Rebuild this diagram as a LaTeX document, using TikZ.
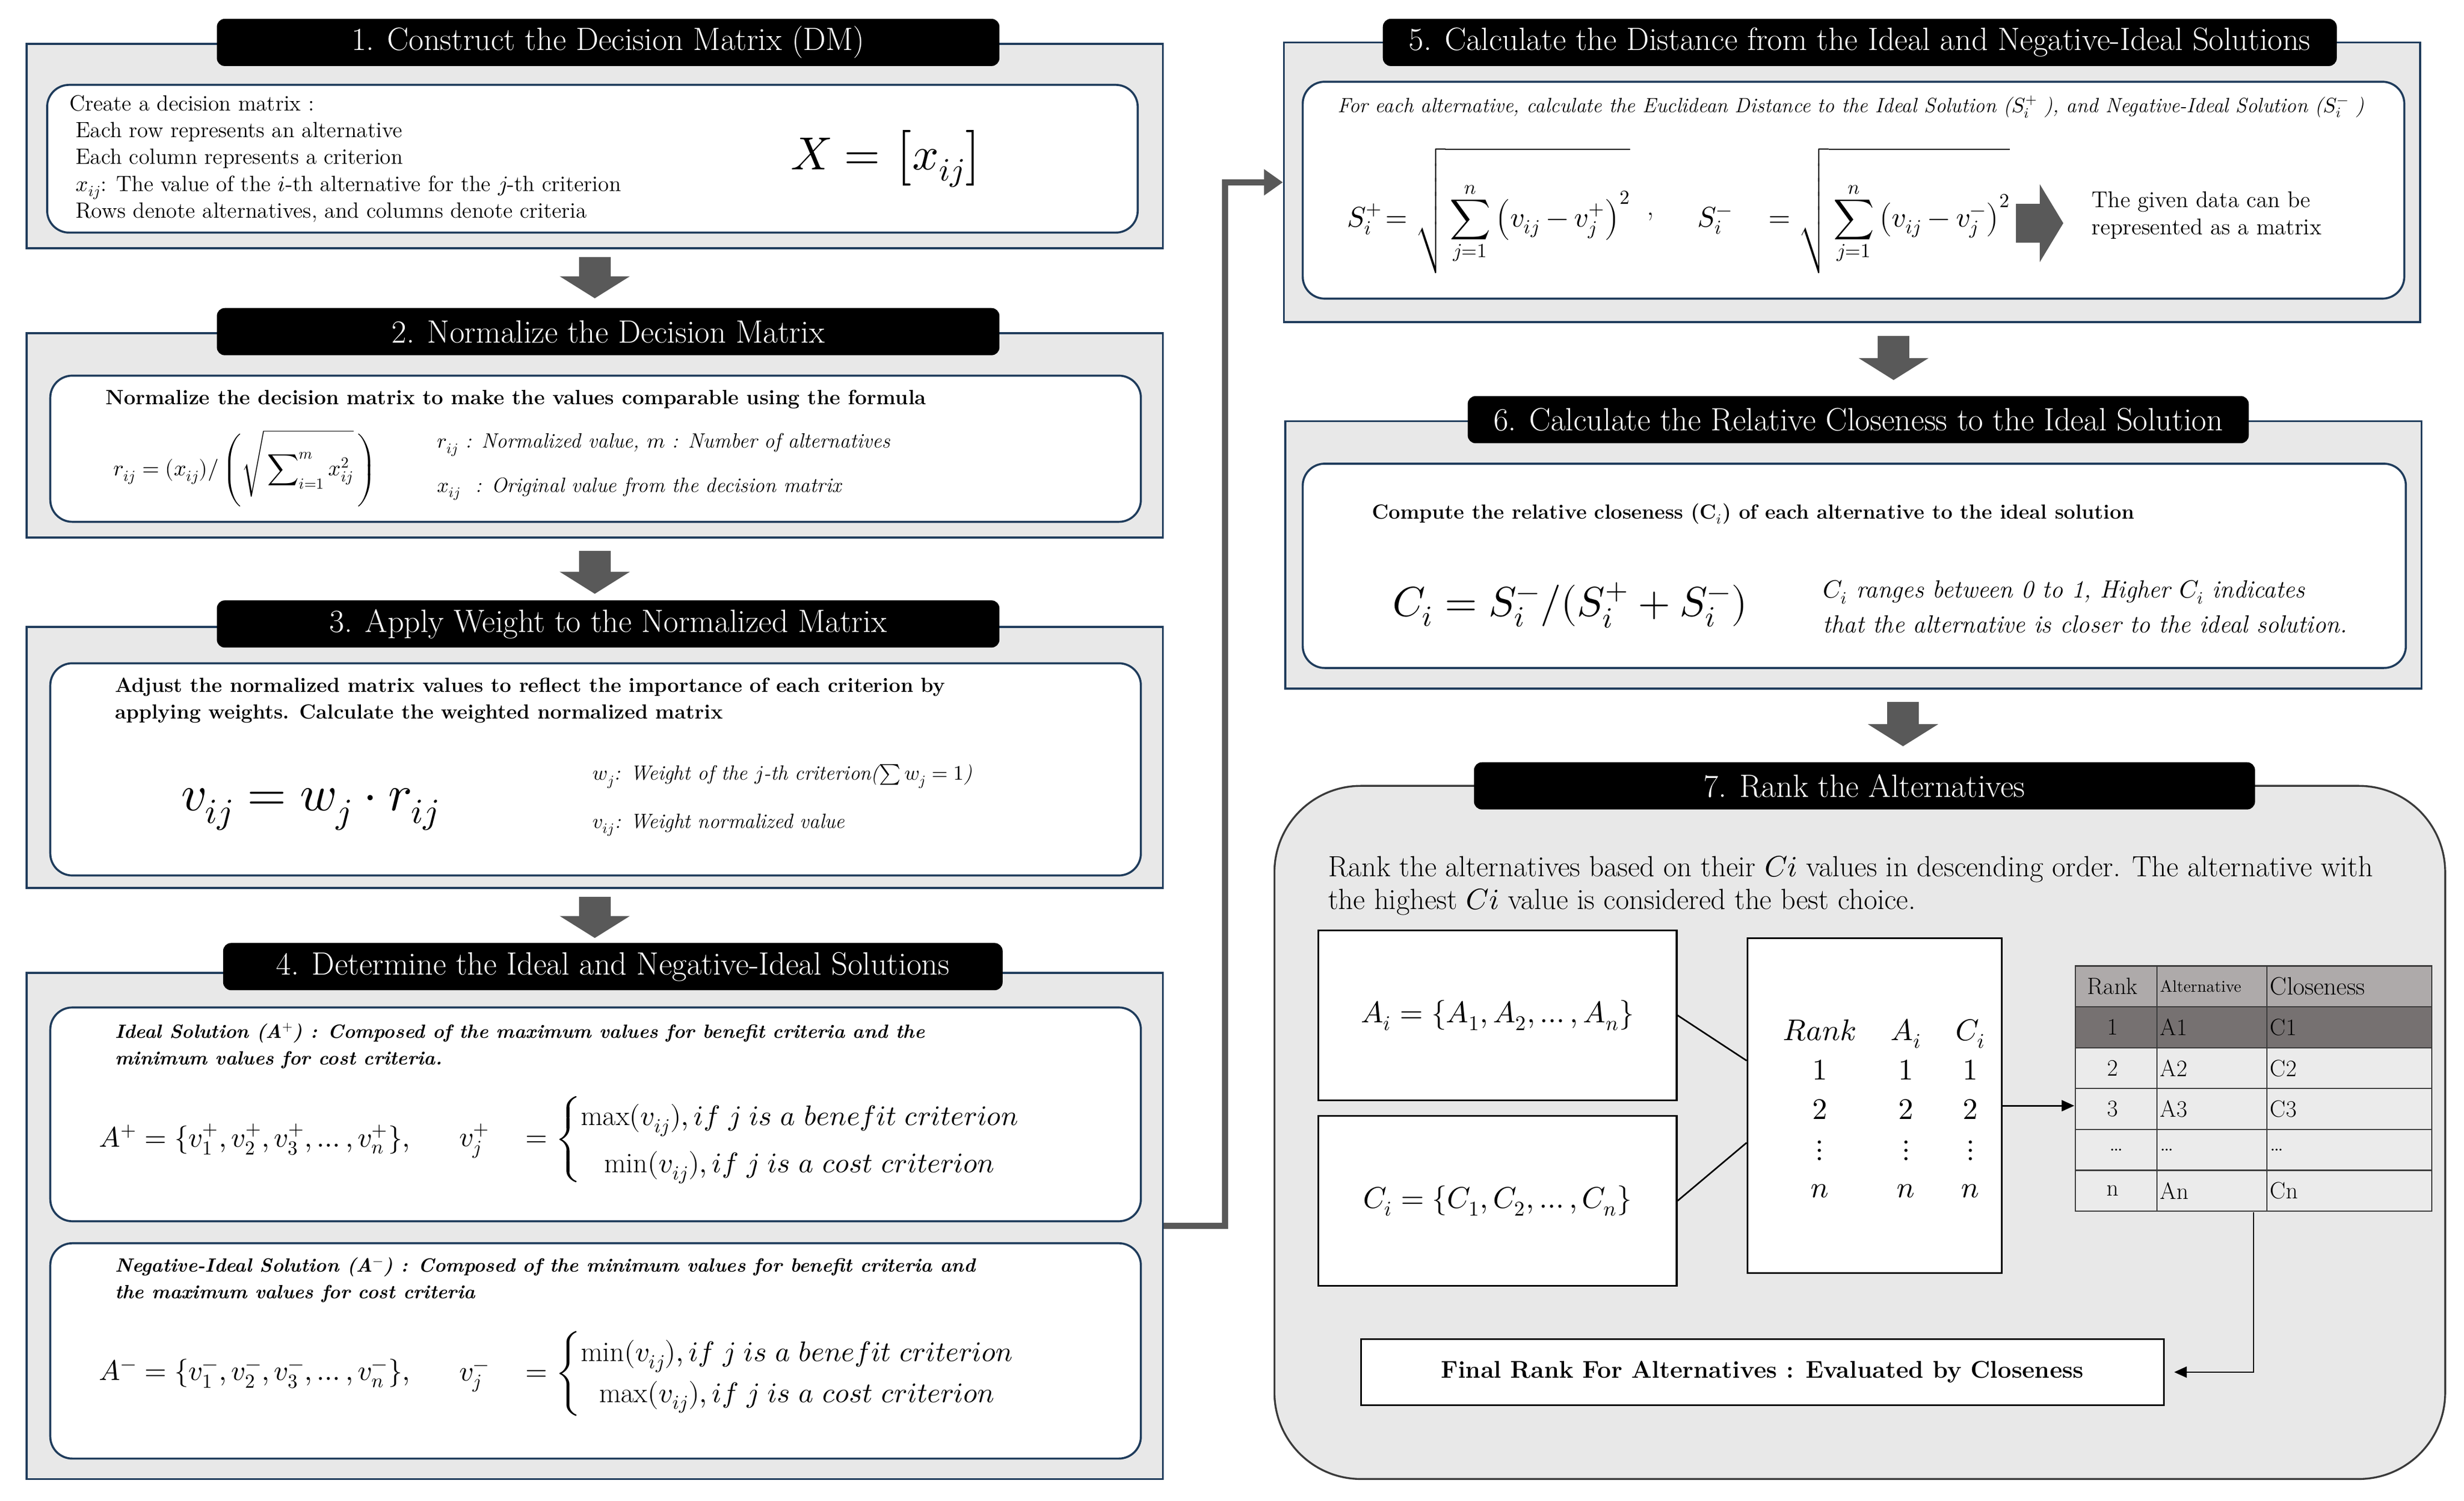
\documentclass[tikz,border=0pt]{standalone}
\usepackage{amsmath}
\usepackage{unicode-math}
\usetikzlibrary{fit,arrows.meta,matrix,calc}
\definecolor{boxgrey}{HTML}{E8E8E8}
\definecolor{boxblue}{HTML}{1F3C5C}
\definecolor{arrgrey}{HTML}{595959}
\definecolor{hdrgrey}{HTML}{AEAAAA}
\definecolor{rowdark}{HTML}{767171}
\definecolor{rowlight}{HTML}{EBEBEB}
\definecolor{sevenline}{HTML}{3A3A3A}
\begin{document}
\begin{tikzpicture}[x=1pt,y=-1pt,
  outerbox/.style={draw=boxblue, line width=1.3pt, fill=boxgrey, inner sep=0pt},
  innerbox/.style={draw=boxblue, line width=1.3pt, fill=white, rounded corners=14pt, inner sep=0pt},
  titlebar/.style={fill=black, rounded corners=5pt, inner sep=0pt},
  titletext/.style={inner sep=0pt, text=white, font=\fontsize{20.5}{22}\selectfont},
  blockarr/.style={draw=arrgrey, line width=20pt, -{Triangle[length=14pt,width=44pt]}},
  bigarr/.style={draw=arrgrey, line width=25pt, -{Triangle[length=15pt,width=49pt]}},
  conn/.style={draw=arrgrey, line width=4pt, -{Triangle[length=12pt,width=16pt]}},
  plainbox/.style={draw=black, line width=1.1pt, fill=white, inner sep=0pt},
  thinline/.style={draw=black, line width=1pt},
  thinarr/.style={draw=black, line width=1pt, -{Triangle[length=8pt,width=7pt]}},
  txt/.style={anchor=west, inner sep=0pt, align=left},
  cell/.style={draw=sevenline, line width=0.8pt, minimum height=26pt, inner ysep=0pt, inner xsep=2pt, font=\fontsize{15}{17}\selectfont, fill=rowlight, anchor=center}
]
\useasboundingbox (0,0) rectangle (1568,954.66);

% ---------- Box 1 ----------
\node[outerbox, fit={(17,28) (740,158)}] (b1) {};
\node[titlebar, fit={(138,12) (636,42)}] (t1) {};
\node[titletext] (t1x) at (t1.center) {1. Construct the Decision Matrix (DM)};
\node[innerbox, fit={(30,54) (724,148)}] (i1) {};
\node[txt, font=\fontsize{14}{17}\selectfont] (b1txt) at (44,101) {Create a decision matrix :\\
\hspace*{4pt}Each row represents an alternative\\
\hspace*{4pt}Each column represents a criterion\\
\hspace*{4pt}$x_{ij}$: The value of the $i$-th alternative for the $j$-th criterion\\
\hspace*{4pt}Rows denote alternatives, and columns denote criteria};
\node[txt, font=\fontsize{29.5}{32}\selectfont] (b1eq) at (503,101) {$X = \left[x_{ij}\right]$};

% ---------- Box 2 ----------
\node[outerbox, fit={(17,212) (740,342)}] (b2) {};
\node[titlebar, fit={(138,196) (636,226)}] (t2) {};
\node[titletext] (t2x) at (t2.center) {2. Normalize the Decision Matrix};
\node[innerbox, fit={(32,239) (726,332)}] (i2) {};
\node[txt, font=\bfseries\fontsize{13.2}{15}\selectfont] (b2txt) at (67,254) {Normalize the decision matrix to make the values comparable using the formula};
\node[txt, font=\fontsize{14}{16}\selectfont] (b2eq) at (72,298) {$r_{ij} = (x_{ij}) / \left(\sqrt{\rule[-13pt]{0pt}{40pt}\displaystyle\sum\nolimits_{i=1}^{m} x_{ij}^2}\,\right)$};
\node[txt, font=\itshape\fontsize{13.2}{15}\selectfont] (b2n1) at (278,283) {$r_{ij}$ : Normalized value, $m$ : Number of alternatives};
\node[txt, font=\itshape\fontsize{13.2}{15}\selectfont] (b2n2) at (278,311) {$x_{ij}$\ \ : Original value from the decision matrix};

% ---------- Box 3 ----------
\node[outerbox, fit={(17,399) (740,565)}] (b3) {};
\node[titlebar, fit={(138,382) (636,412)}] (t3) {};
\node[titletext] (t3x) at (t3.center) {3. Apply Weight to the Normalized Matrix};
\node[innerbox, fit={(32,422) (726,557)}] (i3) {};
\node[txt, font=\bfseries\fontsize{13}{17}\selectfont] (b3txt) at (73,445.5) {Adjust the normalized matrix values to reflect the importance of each criterion by\\applying weights. Calculate the weighted normalized matrix};
\node[txt, font=\fontsize{32}{34}\selectfont] (b3eq) at (115,515) {$v_{ij} = w_j \cdot r_{ij}$};
\node[txt, font=\itshape\fontsize{13.1}{15}\selectfont] (b3n1) at (377,494) {$w_j$: Weight of the $j$-th criterion($\sum w_j = 1$)};
\node[txt, font=\itshape\fontsize{13.1}{15}\selectfont] (b3n2) at (377,525) {$v_{ij}$: Weight normalized value};

% ---------- Box 4 ----------
\node[outerbox, fit={(17,619) (740,941)}] (b4) {};
\node[titlebar, fit={(142,600) (638,630)}] (t4) {};
\node[titletext] (t4x) at (t4.center) {4. Determine the Ideal and Negative-Ideal Solutions};
\node[innerbox, fit={(32,641) (726,777)}] (i4a) {};
\node[innerbox, fit={(32,791) (726,928)}] (i4b) {};
\node[txt, font=\bfseries\itshape\fontsize{12.2}{17}\selectfont] (b4t1) at (73,665.5) {Ideal Solution (A$^{+}$) : Composed of the maximum values for benefit criteria and the\\minimum values for cost criteria.};
\node[txt, font=\fontsize{18}{20}\selectfont] (b4e1) at (63,725) {$A^{+} = \{v_1^{+}, v_2^{+}, v_3^{+}, \dots, v_n^{+}\},$};
\node[txt, font=\fontsize{18}{21}\selectfont] (b4e2) at (292,725) {$v_j^{+} \quad = \left\{\renewcommand\arraystretch{1.43}\begin{array}{@{}c@{}} \max(v_{ij}), if\ j\ is\ a\ benefit\ criterion\\ \min(v_{ij}), if\ j\ is\ a\ cost\ criterion\end{array}\right.$};
\node[txt, font=\bfseries\itshape\fontsize{12.2}{17}\selectfont] (b4t2) at (73,814.5) {Negative-Ideal Solution (A$^{-}$) : Composed of the minimum values for benefit criteria and\\the maximum values for cost criteria};
\node[txt, font=\fontsize{18}{20}\selectfont] (b4e3) at (63,874) {$A^{-} = \{v_1^{-}, v_2^{-}, v_3^{-}, \dots, v_n^{-}\},$};
\node[txt, font=\fontsize{18}{21}\selectfont] (b4e4) at (292,874) {$v_j^{-} \quad = \left\{\renewcommand\arraystretch{1.24}\begin{array}{@{}c@{}} \min(v_{ij}), if\ j\ is\ a\ benefit\ criterion\\ \max(v_{ij}), if\ j\ is\ a\ cost\ criterion\end{array}\right.$};

% ---------- Box 5 ----------
\node[outerbox, fit={(817,27) (1540,205)}] (b5) {};
\node[titlebar, fit={(880,12) (1487,42)}] (t5) {};
\node[titletext] (t5x) at (t5.center) {5. Calculate the Distance from the Ideal and Negative-Ideal Solutions};
\node[innerbox, fit={(829,52) (1530,190)}] (i5) {};
\node[txt, font=\itshape\fontsize{13.1}{14}\selectfont] (b5txt) at (851,68) {For each alternative, calculate the Euclidean Distance to the Ideal Solution ($S_i^{+}$ ), and Negative-Ideal Solution ($S_i^{-}$ )};
\node[txt, font=\fontsize{18}{22}\selectfont] (b5e1) at (857,134) {$S_i^{+}\!= \sqrt{\rule[-30pt]{0pt}{78pt}\displaystyle\sum_{j=1}^{n}\left(v_{ij} - v_j^{+}\right)^2}$};
\node[txt, font=\fontsize{18}{22}\selectfont] (b5c) at (1048,138) {,};
\node[txt, font=\fontsize{18}{22}\selectfont] (b5e2) at (1080,134) {$S_i^{-} \quad = \sqrt{\rule[-30pt]{0pt}{78pt}\displaystyle\sum_{j=1}^{n}\left(v_{ij} - v_j^{-}\right)^2}$};
\coordinate (b5a1) at (1283,142);
\coordinate (b5a2) at (1313,142);
\draw[bigarr] (b5a1) -- (b5a2);
\node[txt, font=\fontsize{14.5}{17}\selectfont] (b5note) at (1331,137) {The given data can be\\represented as a matrix};

% ---------- Box 6 ----------
\node[outerbox, fit={(818,268) (1541,438)}] (b6) {};
\node[titlebar, fit={(934,252) (1431,282)}] (t6) {};
\node[titletext] (t6x) at (t6.center) {6. Calculate the Relative Closeness to the Ideal Solution};
\node[innerbox, fit={(829,295) (1531,425)}] (i6) {};
\node[txt, font=\bfseries\fontsize{13}{15}\selectfont] (b6txt) at (873,327) {Compute the relative closeness (C$_i$) of each alternative to the ideal solution};
\node[txt, font=\fontsize{26.5}{28}\selectfont] (b6eq) at (886,385) {$C_i = S_i^{-} / (S_i^{+} + S_i^{-})$};
\node[txt, font=\itshape\fontsize{15.8}{22}\selectfont] (b6n) at (1160,386) {$C_i$ ranges between 0 to 1, Higher $C_i$ indicates\\that the alternative is closer to the ideal solution.};

% ---------- Box 7 ----------
\node[fill=boxgrey, draw=sevenline, line width=1.2pt, rounded corners=55pt, inner sep=0pt, fit={(811,500) (1556,941)}] (b7) {};
\node[titlebar, fit={(938,485) (1435,515)}] (t7) {};
\node[titletext] (t7x) at (t7.center) {7. Rank the Alternatives};
\node[txt, font=\fontsize{18.6}{21}\selectfont] (b7txt) at (845,563.5) {Rank the alternatives based on their $Ci$ values in descending order. The alternative with\\the highest $Ci$ value is considered the best choice.};
\node[plainbox, fit={(839,592) (1067,700)}] (abox) {};
\node[inner sep=0pt, font=\fontsize{19}{22}\selectfont] (aboxt) at (abox.center) {$A_i = \{A_1, A_2, \dots, A_n\}$};
\node[plainbox, fit={(839,710) (1067,818)}] (cbox) {};
\node[inner sep=0pt, font=\fontsize{19}{22}\selectfont] (cboxt) at (cbox.center) {$C_i = \{C_1, C_2, \dots, C_n\}$};
\node[plainbox, fit={(1112,597) (1274,810)}] (mid) {};
\node[inner sep=0pt, font=\fontsize{19}{25}\selectfont] (midtxt) at (1199,707) {$\setlength\arraycolsep{11pt}\begin{array}{ccc} Rank & A_i & C_i\\ 1&1&1\\ 2&2&2\\ \vdots&\vdots&\vdots\\ n&n&n \end{array}$};
\draw[thinline] (abox.east) -- ($(mid.north west)!0.366!(mid.south west)$);
\draw[thinline] (cbox.east) -- ($(mid.north west)!0.61!(mid.south west)$);

\matrix (tab) [matrix of nodes, anchor=north west, inner sep=0pt, column sep=-0.8pt, row sep=-0.8pt,
  nodes={cell},
  column 1/.style={nodes={minimum width=52pt, align=center}},
  column 2/.style={nodes={text width=66pt, align=left}},
  column 3/.style={nodes={text width=101pt, align=left}},
  row 1/.style={nodes={fill=hdrgrey}},
  row 2/.style={nodes={fill=rowdark}}] at (1320,614) {
  Rank & |[font=\fontsize{10.5}{12}\selectfont]| Alternative & |[font=\fontsize{16}{18}\selectfont]| Closeness \\
  1 & A1 & C1 \\
  2 & A2 & C2 \\
  3 & A3 & C3 \\
  \dots & \dots & \dots \\
  n & An & Cn \\
};
\draw[thinarr] (mid.east) -- (mid.east -| tab.west);
\node[plainbox, fit={(866,852) (1377,894)}] (fin) {};
\node[inner sep=0pt, font=\bfseries\fontsize{15.4}{17}\selectfont] (fint) at (fin.center) {Final Rank For Alternatives : Evaluated by Closeness};
\draw[thinarr] (tab.south) |- ($(fin.east)+(6,0)$);

% ---------- block arrows and connector ----------
\draw[blockarr] ($(b1.south)+(0,5)$) -- ($(b1.south |- t2.north)+(0,-6)$);
\draw[blockarr] ($(b2.south)+(0,8)$) -- ($(b2.south |- t3.north)+(0,-4)$);
\draw[blockarr] ($(b3.south)+(0,5)$) -- ($(b3.south |- t4.north)+(0,-3)$);
\draw[blockarr] ($(b5.south)+(26.5,8)$) -- ($(b5.south |- t6.north)+(26.5,-10)$);
\draw[blockarr] ($(b6.south)+(31.5,8)$) -- ($(b6.south |- t7.north)+(31.5,-10)$);
\draw[conn] (b4.east) -- ++(39,0) |- (b5.west);
\end{tikzpicture}
\end{document}
